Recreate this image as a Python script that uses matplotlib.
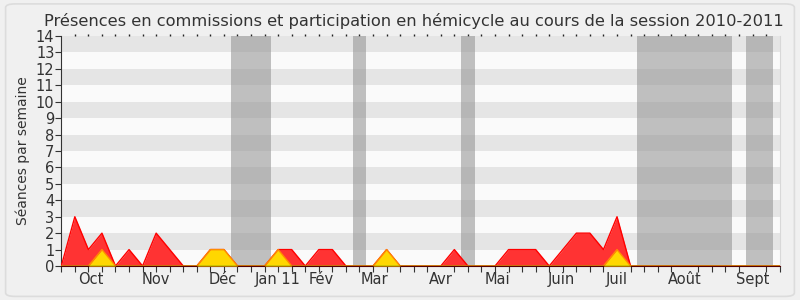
import matplotlib
matplotlib.use("Agg")
import matplotlib.pyplot as plt
from matplotlib.patches import FancyBboxPatch
import numpy as np

title = "Présences en commissions et participation en hémicycle au cours de la session 2010-2011"
ylabel = "Séances par semaine"

# weekly values (week index 0..53)
commission = [0, 3, 1, 2, 0, 1, 0, 2, 1, 0, 0, 1, 1, 0, 0, 0, 1, 1, 0, 1,
              1, 0, 0, 0, 1, 0, 0, 0, 0, 1, 0, 0, 0, 1, 1, 1, 0, 1, 2, 2,
              1, 3, 0, 0, 0, 0, 0, 0, 0, 0, 0, 0, 0, 0]
hemicycle = [0, 0, 0, 1, 0, 0, 0, 0, 0, 0, 0, 1, 1, 0, 0, 0, 1, 0, 0, 0,
             0, 0, 0, 0, 1, 0, 0, 0, 0, 0, 0, 0, 0, 0, 0, 0, 0, 0, 0, 0,
             0, 1, 0, 0, 0, 0, 0, 0, 0, 0, 0, 0, 0, 0]
questions = [0] * 54

month_labels = ["Oct", "Nov", "Déc", "Jan 11", "Fév", "Mar", "Avr", "Mai",
                "Juin", "Juil", "Août", "Sept"]
month_pos = [2.15, 6.95, 11.9, 15.95, 19.15, 23.1, 28.0, 32.2, 36.9, 41.0, 46.0, 51.0]

vacations = [(12.5, 15.5), (21.5, 22.5), (29.5, 30.5), (42.5, 49.5), (50.5, 52.5)]

ymax = 14

fig = plt.figure(figsize=(8, 3), dpi=100, facecolor="#f0f0f0")
bg = FancyBboxPatch((0.007, 0.012), 0.986, 0.975,
                    boxstyle="round,pad=0,rounding_size=0.012",
                    transform=fig.transFigure, facecolor="#f0f0f0",
                    edgecolor="#dcdcdc", linewidth=1.2, zorder=-10)
fig.patches.append(bg)

ax = fig.add_axes([0.0766, 0.1133, 0.898, 0.7667])
ax.set_zorder(5)
ax.set_facecolor("#fafafa")
n = len(commission)
x = np.arange(n)

# horizontal stripes
for k in range(1, ymax, 2):
    ax.axhspan(k, k + 1, color="#e5e5e5", lw=0, zorder=0)

# vacation bands
for a, b in vacations:
    ax.axvspan(a, b, color="#909090", alpha=0.55, lw=0, zorder=1)

ax.fill_between(x, commission, color="#ff3333", lw=0, zorder=2)
ax.plot(x, commission, color="#ff0000", lw=1.0, zorder=3)
ax.fill_between(x, hemicycle, color="#ffd700", lw=0, zorder=4)
ax.plot(x, hemicycle, color="#ff8c00", lw=1.0, zorder=5)
ax.plot(x, questions, color="#008000", lw=1.0, zorder=5)

ax.set_xlim(0, n - 1)
ax.set_ylim(0, ymax)
ax.set_yticks(range(0, ymax + 1))
ax.tick_params(axis="y", labelsize=10.5, length=4, width=0.8, colors="#333333", pad=1)

ax.set_xticks(x, minor=True)
ax.set_xticks(month_pos)
ax.set_xticklabels(month_labels)
ax.tick_params(axis="x", which="major", length=0, labelsize=10.5, colors="#333333", pad=4)
ax.tick_params(axis="x", which="minor", length=4.5, width=0.8, color="#333333",
               top=False, bottom=True)

top = ax.secondary_xaxis("top")
top.set_xticks(x[1:-1])
top.set_xticklabels([])
top.tick_params(axis="x", length=1.2, width=1.0, color="#222222")
top.spines["top"].set_visible(False)

for s in ["top"]:
    ax.spines[s].set_visible(False)
ax.spines["right"].set_color("#d8d8d8")
ax.spines["left"].set_color("#333333")
ax.spines["bottom"].set_color("#550000")

ax.set_ylabel(ylabel, fontsize=10, color="#333333", labelpad=4)
fig.text(0.5175, 0.93, title, ha="center", va="center", fontsize=11.7, color="#333333")

fig.savefig("out.png", dpi=100, facecolor=fig.get_facecolor())
